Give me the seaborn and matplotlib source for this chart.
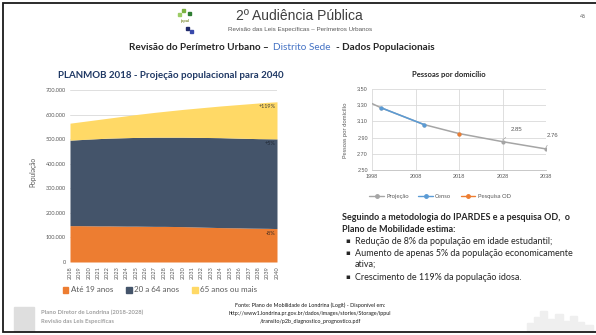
import numpy as np
import matplotlib
matplotlib.use("Agg")
import matplotlib.pyplot as plt
from matplotlib.patches import Patch, Rectangle
from matplotlib.lines import Line2D
import seaborn as sns

# ---- population projection (PLANMOB 2018) ----
years = [2018, 2019, 2020, 2021, 2022, 2023, 2024, 2025, 2026, 2027, 2028, 2029,
         2030, 2031, 2032, 2033, 2034, 2035, 2036, 2037, 2038, 2039, 2040]
ate_19 = [148000, 148000, 147500, 147000, 147000, 146500, 146000, 146000, 145500,
          145000, 145000, 144500, 144000, 143000, 142000, 141000, 140000, 139500,
          139000, 138000, 137500, 137000, 136000]
de_20_a_64 = [348000, 350000, 352500, 355000, 357000, 358500, 360000, 361000, 362000,
              363000, 363000, 363500, 364000, 364500, 365000, 365500, 366000, 365500,
              365000, 365000, 364500, 364500, 365000]
mais_65 = [69000, 72000, 75000, 78000, 81000, 85000, 89000, 93000, 97000, 101000,
           105000, 109000, 113000, 117000, 121000, 125000, 129000, 133000, 137000,
           141000, 145000, 148500, 151000]
age_labels = ["Até 19 anos", "20 a 64 anos", "65 anos ou mais"]
age_colors = ["#ED7D31", "#44546A", "#FFD966"]

# ---- persons per household ----
proj_years = [1998, 2000, 2010, 2018, 2028, 2038]
proj_vals = [3.32, 3.27, 3.06, 2.95, 2.85, 2.76]
censo_years = [2000, 2010]
censo_vals = [3.27, 3.06]
od_years = [2018]
od_vals = [2.95]
dom_xticks = [1998, 2008, 2018, 2028, 2038]
dom_yticks = [2.50, 2.70, 2.90, 3.10, 3.30, 3.50]

sns.set_theme(style="white")
plt.rcParams["font.family"] = ["Lato", "DejaVu Sans"]

W, H = 596, 335
fig = plt.figure(figsize=(W / 100, H / 100), dpi=100)
fig.patch.set_facecolor("white")


def fx(px):
    return px / W


def fy(py):
    return 1 - py / H


def box(x0, y0, x1, y1):
    return [fx(x0), fy(y1), fx(x1) - fx(x0), fy(y0) - fy(y1)]


GRAY = "#595959"

# ---------------- left: stacked area ----------------
ax1 = fig.add_axes(box(70, 90, 277, 262))
ax1.stackplot(years, ate_19, de_20_a_64, mais_65, colors=age_colors, linewidth=0)
ax1.set_xlim(years[0], years[-1])
ax1.set_ylim(0, 700000)
ax1.set_yticks(range(0, 700001, 100000))
ax1.set_yticklabels(["0" if v == 0 else f"{v:,}".replace(",", ".")
                     for v in range(0, 700001, 100000)])
ax1.set_xticks(years)
ax1.set_xticklabels([str(y) for y in years], rotation=90)
ax1.yaxis.grid(True, color="#D9D9D9", lw=0.6)
ax1.xaxis.grid(False)
ax1.set_axisbelow(True)
sns.despine(ax=ax1, left=True, bottom=True)
ax1.tick_params(axis="both", labelsize=4, colors=GRAY, length=0, pad=3)

# growth labels at the right end of each band
tops = np.cumsum([ate_19, de_20_a_64, mais_65], axis=0)
for series, top, col in zip([ate_19, de_20_a_64, mais_65], tops,
                            ["#3a2a20", "#1f2733", "#3d3d3d"]):
    pct = (series[-1] / series[0] - 1) * 100
    ax1.text(years[-1] - 0.15, top[-1] - 19000, f"{pct:+.0f}%", ha="right",
             va="center", fontsize=4, color=col)

fig.text(fx(171), fy(75), "PLANMOB 2018 - Projeção populacional para 2040",
         ha="center", va="center", fontsize=7, weight="bold", color="#1F3864")
fig.text(fx(33), fy(172), "População", rotation=90, ha="center", va="center",
         fontsize=4.8, color=GRAY)
fig.legend(handles=[Patch(color=c, label=l) for c, l in zip(age_colors, age_labels)],
           loc="center", bbox_to_anchor=(fx(160), fy(290)), ncol=3, frameon=False,
           fontsize=5.8, handlelength=0.7, handleheight=0.7, handletextpad=0.3,
           columnspacing=1.6, labelcolor=GRAY)

# ---------------- right: persons per household ----------------
ax2 = fig.add_axes(box(372, 89, 546, 170))
sns.lineplot(x=proj_years, y=proj_vals, ax=ax2, color="#A5A5A5", lw=1.1,
             marker="o", markersize=3, markeredgewidth=0, markevery=[1, 2, 3, 4, 5])
sns.lineplot(x=censo_years, y=censo_vals, ax=ax2, color="#5B9BD5", lw=1.1,
             marker="o", markersize=3, markeredgewidth=0)
ax2.plot(od_years, od_vals, color="#ED7D31", marker="o", markersize=3,
         markeredgewidth=0, lw=0)
ax2.set_xlim(dom_xticks[0], dom_xticks[-1])
ax2.set_ylim(dom_yticks[0], dom_yticks[-1])
ax2.set_xticks(dom_xticks)
ax2.set_yticks(dom_yticks)
ax2.set_yticklabels([f"{v:.2f}" for v in dom_yticks])
ax2.grid(True, color="#D9D9D9", lw=0.6)
for s in ["top", "right", "left"]:
    ax2.spines[s].set_visible(False)
ax2.spines["bottom"].set_color("#BFBFBF")
ax2.spines["bottom"].set_linewidth(0.6)
ax2.tick_params(axis="both", labelsize=4, colors=GRAY, length=0, pad=3)
for lab in ax2.get_yticklabels() + ax2.get_xticklabels():
    lab.set_family(["Liberation Sans", "DejaVu Sans"])

for yr, val, (lx, ly) in zip(proj_years[-2:], proj_vals[-2:],
                             [(2031.2, 3.005), (2039.6, 2.92)]):
    ax2.annotate(f"{val:.2f}", xy=(yr, val + 0.02), xytext=(lx, ly),
                 fontsize=4.3, color=GRAY, ha="center", va="center",
                 annotation_clip=False, family=["Liberation Sans", "DejaVu Sans"],
                 arrowprops=dict(arrowstyle="-", color="#A5A5A5", lw=0.5,
                                 shrinkA=3, shrinkB=0))

fig.text(fx(449), fy(75), "Pessoas por domicílio", ha="center", va="center",
         fontsize=5.5, weight="bold", color="#262626")
fig.text(fx(345), fy(130), "Pessoas por domicílio", rotation=90, ha="center",
         va="center", fontsize=4.2, color=GRAY)
dom_handles = [
    Line2D([], [], color="#A5A5A5", lw=1, marker="o", markersize=2.5, label="Projeção"),
    Line2D([], [], color="#5B9BD5", lw=1, marker="o", markersize=2.5, label="Censo"),
    Line2D([], [], color="#ED7D31", lw=1, marker="o", markersize=2.5, label="Pesquisa OD"),
]
fig.legend(handles=dom_handles, loc="center", bbox_to_anchor=(fx(440), fy(196)),
           ncol=3, frameon=False, fontsize=4.2, handlelength=2.5,
           handletextpad=0.4, columnspacing=1.6, labelcolor=GRAY)

# ---------------- text block ----------------
TXT = "#262626"
fig.text(fx(342), fy(218), "Seguindo a metodologia do IPARDES e a pesquisa OD,  o",
         fontsize=6.5, weight="bold", color=TXT, va="center")
fig.text(fx(342), fy(229), "Plano de Mobilidade estima:",
         fontsize=6.5, weight="bold", color=TXT, va="center")
bullets = [(241, "Redução de 8% da população em idade estudantil;", True),
           (253, "Aumento de apenas 5% da população economicamente", True),
           (264, "ativa;", False),
           (277, "Crescimento de 119% da população idosa.", True)]
for yy, s, mark in bullets:
    if mark:
        fig.text(fx(345), fy(yy), "▪", fontsize=5, color=TXT, va="center",
                 family=["DejaVu Sans"])
    fig.text(fx(355), fy(yy), s, fontsize=6.5, color=TXT, va="center")

# ---------------- header ----------------
fig.text(fx(299), fy(16), "2º Audiência Pública", ha="center", va="center",
         fontsize=10, color="#404040", family=["Liberation Sans", "DejaVu Sans"])
fig.text(fx(300), fy(30), "Revisão das Leis Específicas – Perímetros Urbanos",
         ha="center", va="center", fontsize=4.5, color=GRAY,
         family=["Liberation Sans", "DejaVu Sans"])
fig.text(fx(583), fy(17), "46", ha="center", va="center", fontsize=4, color=GRAY)

fig.canvas.draw()
renderer = fig.canvas.get_renderer()
x_cursor = fx(129)
for part, col, wt, gap in [("Revisão do Perímetro Urbano –", TXT, "bold", 4),
                           ("Distrito Sede", "#4472C4", "normal", 6),
                           ("- Dados Populacionais", TXT, "bold", 0)]:
    t = fig.text(x_cursor, fy(48), part, fontsize=7.2, weight=wt, color=col,
                 va="center", ha="left")
    bb = t.get_window_extent(renderer=renderer)
    x_cursor = fx(bb.x1 + gap)

# small logo mark
for (px, py, c) in [(182, 9, "#7CB342"), (188, 12, "#2E7D32"), (178, 13, "#9CCC65"),
                    (186, 27, "#1F2A6B"), (190, 30, "#3949AB")]:
    fig.add_artist(Rectangle((fx(px), fy(py + 3)), fx(3), 3 / H, color=c,
                             transform=fig.transFigure))
fig.text(fx(185), fy(21), "ippul", ha="center", va="center", fontsize=3,
         color="#7a8a30", weight="bold")

# ---------------- footer ----------------
FOOT = "#A0A0A0"
fig.text(fx(41), fy(312), "Plano Diretor de Londrina (2018-2028)", fontsize=4.2,
         color=FOOT, va="center", weight="bold")
fig.text(fx(41), fy(322), "Revisão das Leis Específicas", fontsize=4.2,
         color=FOOT, va="center", weight="bold")
for i, s in enumerate(["Fonte: Plano de Mobilidade de Londrina (Logit) - Disponível em:",
                       "http://www1.londrina.pr.gov.br/dados/images/stories/Storage/ippul",
                       "/transito/p2b_diagnostico_prognostico.pdf"]):
    fig.text(fx(310), fy(305 + 8.5 * i), s, ha="center", va="center",
             fontsize=3.9, color="#1a1a1a")

# faint crest and skyline decorations
fig.add_artist(Rectangle((fx(14), fy(331)), fx(20), 24 / H, color="#DEDEDE",
                         transform=fig.transFigure))
for (px, w, h) in [(527, 6, 8), (534, 5, 14), (540, 7, 20), (548, 6, 12),
                   (555, 8, 17), (564, 5, 10), (570, 7, 15), (578, 6, 9), (585, 8, 6)]:
    fig.add_artist(Rectangle((fx(px), fy(331)), fx(w), h / H, color="#EFEFEF",
                             transform=fig.transFigure))

# slide frame
fig.add_artist(Rectangle((fx(3), fy(332)), fx(597) - fx(3), fy(3) - fy(332),
                         fill=False, lw=1.3, edgecolor="#1a1a1a",
                         transform=fig.transFigure))

fig.savefig("out.png", dpi=100, facecolor="white")
